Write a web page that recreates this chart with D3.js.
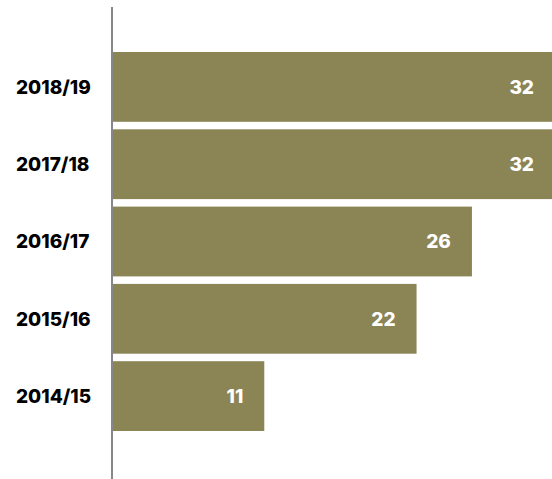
<!DOCTYPE html>
<html>
<head>
<meta charset="utf-8">
<script src="https://cdn.jsdelivr.net/npm/d3@7"></script>
<style>
  body { margin: 0; background: #fff; }
  svg { display: block; }
</style>
</head>
<body>
<script>
// Seasons, top to bottom, and their values
let seasons = ["2018/19", "2017/18", "2016/17", "2015/16", "2014/15"];
let values = [32, 32, 26, 22, 11];

let w = 552;
let h = 479;

let svg = d3.select("body")
    .append("svg")
    .attr("width", w)
    .attr("height", h);

// x runs a little past the right edge, so the two 32 bars get clipped
let x = d3.scaleLinear()
    .domain([0, 32])
    .range([112, 555]);

let y = d3.scaleBand()
    .domain(seasons)
    .range([52, 431])
    .paddingInner(0.097)
    .paddingOuter(0);

let data = seasons.map(function(s, i) {
    return { season: s, value: values[i] };
});

// bars
svg.selectAll("rect.bar")
    .data(data)
    .enter()
    .append("rect")
    .attr("class", "bar")
    .attr("x", x(0))
    .attr("y", function(d) { return y(d.season); })
    .attr("width", function(d) { return x(d.value) - x(0); })
    .attr("height", y.bandwidth())
    .attr("fill", "#8b8454");

// vertical axis line
svg.append("line")
    .attr("x1", 112)
    .attr("x2", 112)
    .attr("y1", 7)
    .attr("y2", h)
    .attr("stroke", "#87868a")
    .attr("stroke-width", 2);

// value labels inside the bars
svg.selectAll("text.val")
    .data(data)
    .enter()
    .append("text")
    .attr("class", "val")
    .attr("x", function(d) { return x(d.value) - 21; })
    .attr("y", function(d) { return y(d.season) + y.bandwidth() / 2; })
    .attr("dy", "0.36em")
    .attr("text-anchor", "end")
    .style("font-family", "Inter, sans-serif")
    .style("font-weight", "800")
    .style("font-size", "19px")
    .attr("fill", "#fff")
    .text(function(d) { return d.value; });

// category labels on the left
svg.selectAll("text.cat")
    .data(data)
    .enter()
    .append("text")
    .attr("class", "cat")
    .attr("x", 16)
    .attr("y", function(d) { return y(d.season) + y.bandwidth() / 2; })
    .attr("dy", "0.36em")
    .style("font-family", "Inter, sans-serif")
    .style("font-weight", "800")
    .style("font-size", "19px")
    .attr("fill", "#000")
    .text(function(d) { return d.season; });
</script>
</body>
</html>
